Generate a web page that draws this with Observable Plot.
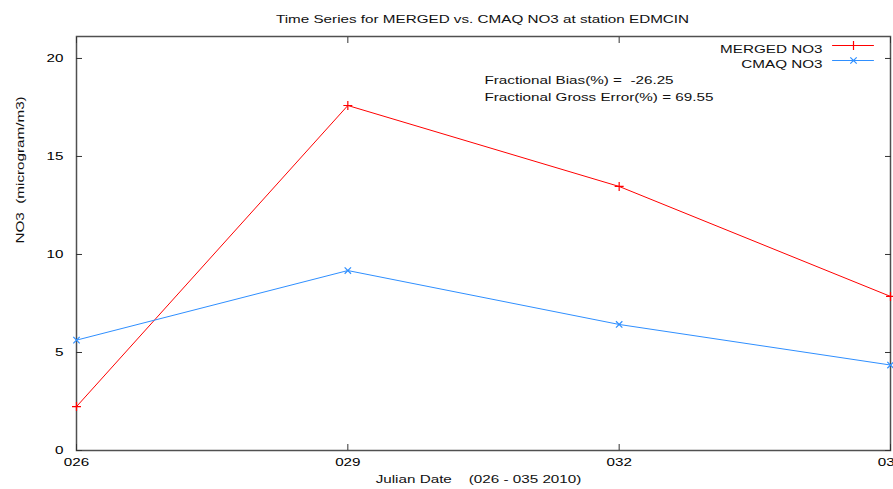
<!DOCTYPE html>
<html><head><meta charset="utf-8">
<script src="https://cdn.jsdelivr.net/npm/d3@7"></script>
<script src="https://cdn.jsdelivr.net/npm/@observablehq/plot@0.6"></script>
<style>body{margin:0;background:#fff;} #chart svg{font-family:"Liberation Sans",Arial,sans-serif;}</style>
</head><body><div id="chart"></div>
<script>
const days = [26, 29, 32, 35];
const mergedNO3 = [2.24, 17.6, 13.47, 7.86];
const cmaqNO3 = [5.63, 9.18, 6.43, 4.36];
const xTicks = [26, 29, 32, 35];
const yTicks = [0, 5, 10, 15, 20];
const seriesNames = ["MERGED NO3", "CMAQ NO3"];
const seriesColors = ["#ff0000", "#2f8fff"];
const seriesSymbols = ["plus", "times"];
const statLines = ["Fractional Bias(%) =  -26.25", "Fractional Gross Error(%) = 69.55"];
const titleText = "Time Series for MERGED vs. CMAQ NO3 at station EDMCIN";
const xLabel = "Julian Date    (026 - 035 2010)";
const yLabel = "NO3  (microgram/m3)";

const seriesValues = [mergedNO3, cmaqNO3];
const data = seriesNames.flatMap((s, k) => days.map((d, i) => ({day: d, value: seriesValues[k][i], series: s})));
const lineShape = {draw(ctx, l) { ctx.moveTo(0, 0); ctx.lineTo(0, -l); }};
const fmt = d3.format("03d");
const FS = 10.5;

const marks = [
  Plot.frame({stroke: "#505050", strokeWidth: 1.5}),
  Plot.axisX({ticks: xTicks, tickSize: 0, tickPadding: 8, tickFormat: fmt, fontSize: FS, label: null}),
  Plot.axisX({ticks: xTicks, tickSize: -6, tickFormat: () => "", label: null, stroke: "#333"}),
  Plot.axisX({anchor: "top", ticks: xTicks, tickSize: -6, tickFormat: () => "", label: null, stroke: "#333"}),
  Plot.axisY({ticks: yTicks, tickSize: 0, tickPadding: 13, fontSize: FS, label: null}),
  Plot.axisY({ticks: yTicks, tickSize: -6, tickFormat: () => "", label: null, stroke: "#333"}),
  Plot.axisY({anchor: "right", ticks: yTicks, tickSize: -6, tickFormat: () => "", label: null, stroke: "#333"}),
];
seriesNames.forEach((s, k) => {
  const rows = data.filter(d => d.series === s);
  marks.push(Plot.line(rows, {x: "day", y: "value", stroke: seriesColors[k], strokeWidth: 1}));
  marks.push(Plot.dot(rows, {x: "day", y: "value", symbol: () => seriesSymbols[k], stroke: seriesColors[k], r: 3, strokeWidth: 1.2}));
  // legend
  marks.push(Plot.text([s], {text: d => d, frameAnchor: "top-right", textAnchor: "end", dx: -68, dy: 9 + 15 * k, fontSize: FS, fill: "#111"}));
  marks.push(Plot.vector([s], {frameAnchor: "top-right", dx: -58, dy: 9 + 15 * k, rotate: 90, length: 41, anchor: "start", shape: lineShape, stroke: seriesColors[k], strokeWidth: 1}));
  marks.push(Plot.dot([s], {frameAnchor: "top-right", dx: -37, dy: 9 + 15 * k, symbol: seriesSymbols[k], stroke: seriesColors[k], r: 3, strokeWidth: 1.2}));
});
statLines.forEach((t, i) => {
  marks.push(Plot.text([t], {text: d => d, frameAnchor: "top-left", textAnchor: "start", dx: 408, dy: 40 + 17 * i, fontSize: FS, fill: "#111"}));
});
marks.push(Plot.text([titleText], {text: d => d, frameAnchor: "top", dx: -1, dy: -21, fontSize: FS, fill: "#111"}));
marks.push(Plot.text([xLabel], {text: d => d, frameAnchor: "bottom", dx: -5, dy: 32, fontSize: FS, fill: "#111"}));
marks.push(Plot.text([yLabel], {text: d => d, frameAnchor: "left", dx: -56, rotate: -90, fontSize: FS, fill: "#111"}));

const chart = Plot.plot({
  width: 893, height: 489,
  marginLeft: 76, marginRight: 3, marginTop: 36, marginBottom: 39,
  style: {background: "#fff", overflow: "visible"},
  x: {domain: [26, 35], label: null},
  y: {domain: [0, 21.12], label: null},
  marks
});
document.getElementById("chart").append(chart);
// widen glyphs horizontally to mimic the reference's stretched font rendering
chart.querySelectorAll("text").forEach(t => {
  const L = t.getComputedTextLength();
  if (L > 0) {
    t.setAttribute("textLength", (L * 1.45).toFixed(1));
    t.setAttribute("lengthAdjust", "spacingAndGlyphs");
  }
});
</script>
</body></html>
